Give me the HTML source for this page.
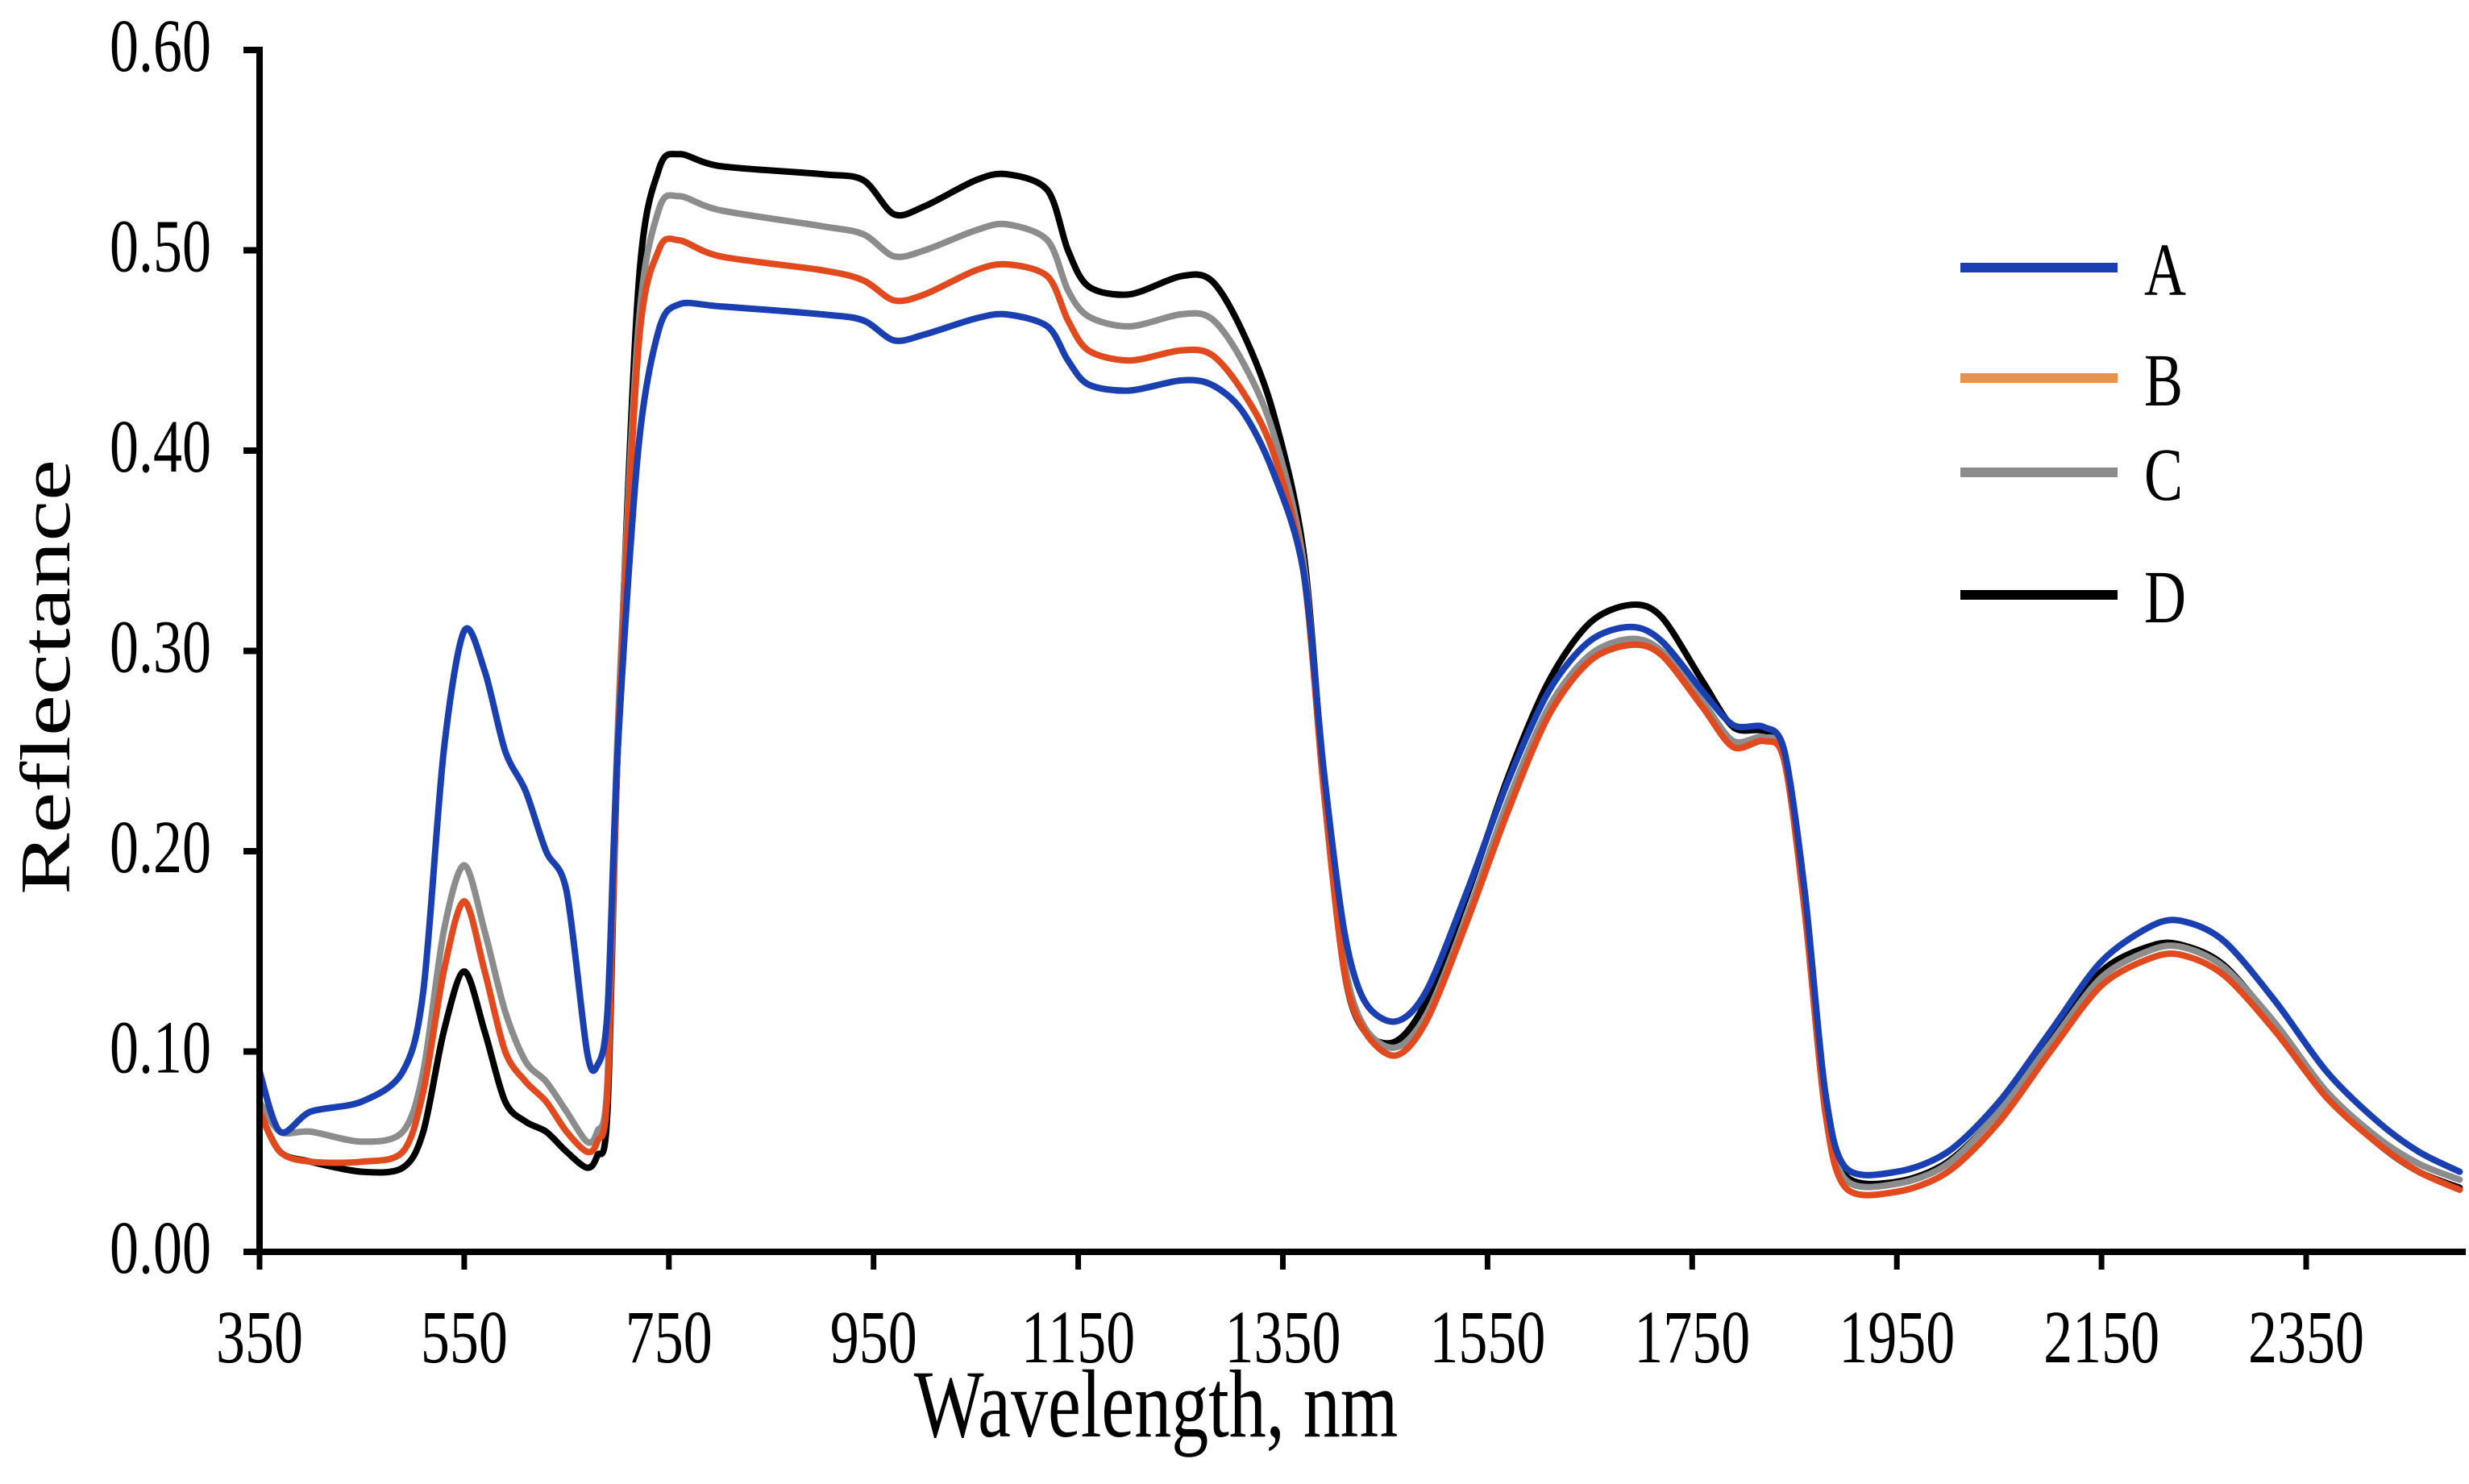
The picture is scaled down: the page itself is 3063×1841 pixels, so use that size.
<!DOCTYPE html>
<html><head><meta charset="utf-8"><style>html,body{margin:0;padding:0;background:#fff}svg{display:block}text{font-family:"Liberation Serif",serif;fill:#000}</style></head>
<body>
<svg id="chart" width="3063" height="1841" viewBox="0 0 3063 1841" xmlns="http://www.w3.org/2000/svg">
<g id="series"></g>
<g id="axes"></g>
<g id="legend"></g>
</svg>
<script>
const wavelengths=[350,370,400,450,490,510,530,550,570,590,610,630,650,670,680,690,700,720,740,760,800,900,940,970,1000,1050,1080,1120,1140,1160,1200,1250,1280,1310,1340,1370,1390,1410,1430,1460,1490,1530,1570,1610,1650,1690,1720,1760,1790,1820,1840,1860,1880,1900,1950,2000,2050,2100,2150,2200,2230,2270,2320,2370,2420,2460,2500];
const seriesA=[0.09,0.06,0.07,0.075,0.09,0.13,0.25,0.31,0.29,0.25,0.23,0.20,0.18,0.10,0.093,0.12,0.25,0.40,0.46,0.473,0.472,0.468,0.465,0.455,0.458,0.466,0.468,0.462,0.445,0.433,0.43,0.435,0.433,0.42,0.39,0.34,0.24,0.16,0.125,0.115,0.13,0.18,0.235,0.28,0.305,0.312,0.305,0.28,0.263,0.262,0.25,0.18,0.08,0.042,0.04,0.05,0.075,0.11,0.145,0.163,0.165,0.155,0.125,0.09,0.065,0.05,0.04];
const seriesB=[0.07,0.05,0.045,0.045,0.05,0.08,0.14,0.175,0.14,0.10,0.085,0.075,0.06,0.05,0.055,0.08,0.25,0.45,0.50,0.505,0.497,0.49,0.485,0.475,0.478,0.49,0.493,0.487,0.465,0.45,0.445,0.45,0.448,0.43,0.40,0.34,0.23,0.14,0.11,0.098,0.115,0.165,0.22,0.268,0.295,0.303,0.298,0.272,0.252,0.255,0.245,0.17,0.07,0.032,0.03,0.04,0.065,0.10,0.133,0.147,0.148,0.138,0.11,0.077,0.054,0.04,0.031];
const seriesC=[0.075,0.06,0.06,0.055,0.06,0.09,0.16,0.193,0.16,0.12,0.095,0.085,0.07,0.055,0.06,0.085,0.26,0.46,0.52,0.527,0.52,0.512,0.508,0.497,0.50,0.51,0.513,0.505,0.48,0.467,0.462,0.468,0.466,0.445,0.41,0.345,0.235,0.145,0.112,0.102,0.118,0.168,0.225,0.272,0.298,0.306,0.30,0.275,0.255,0.257,0.247,0.172,0.073,0.036,0.034,0.044,0.07,0.104,0.137,0.151,0.152,0.142,0.114,0.08,0.057,0.044,0.036];
const seriesD=[0.07,0.05,0.045,0.04,0.042,0.06,0.11,0.14,0.11,0.075,0.065,0.06,0.05,0.042,0.048,0.07,0.25,0.48,0.54,0.548,0.542,0.538,0.535,0.518,0.522,0.535,0.538,0.53,0.50,0.482,0.478,0.487,0.485,0.46,0.42,0.35,0.235,0.14,0.11,0.105,0.125,0.178,0.237,0.285,0.314,0.323,0.317,0.285,0.262,0.26,0.25,0.175,0.075,0.038,0.035,0.045,0.07,0.105,0.14,0.153,0.153,0.143,0.113,0.078,0.054,0.04,0.032];
const seriesNames=["A","B","C","D"];
const seriesColors=["#1a3fb0","#e04a1e","#8c8c8c","#000000"];
const legendColors=["#1a3fb0","#e8914a","#8c8c8c","#000000"];
const xTicks=[350,550,750,950,1150,1350,1550,1750,1950,2150,2350];
const yTicks=[0,0.1,0.2,0.3,0.4,0.5,0.6];
const yTickLabels=["0.00","0.10","0.20","0.30","0.40","0.50","0.60"];

const NS="http://www.w3.org/2000/svg";
const X0=322,Y0=1553,XMAX=3051;
function xs(w){return X0+(w-350)*1.2695;}
function ys(v){return Y0-v*2485;}
function mk(tag,attrs,parent){const e=document.createElementNS(NS,tag);for(const k in attrs)e.setAttribute(k,attrs[k]);parent.appendChild(e);return e;}
function smooth(pts){
  let d='M'+pts[0][0].toFixed(1)+','+pts[0][1].toFixed(1);
  const t=0.15;
  for(let i=0;i<pts.length-1;i++){
    const p0=pts[Math.max(0,i-1)],p1=pts[i],p2=pts[i+1],p3=pts[Math.min(pts.length-1,i+2)];
    const c1x=p1[0]+(p2[0]-p0[0])*t,c1y=p1[1]+(p2[1]-p0[1])*t;
    const c2x=p2[0]-(p3[0]-p1[0])*t,c2y=p2[1]-(p3[1]-p1[1])*t;
    d+=` C${c1x.toFixed(1)},${c1y.toFixed(1)} ${c2x.toFixed(1)},${c2y.toFixed(1)} ${p2[0].toFixed(1)},${p2[1].toFixed(1)}`;
  }
  return d;
}

const sg=document.getElementById('series');
const all=[seriesA,seriesB,seriesC,seriesD];
for(let s=3;s>=0;s--){
  const pts=all[s].map((v,i)=>[xs(wavelengths[i]),ys(v)]);
  const p=mk('path',{d:smooth(pts),fill:'none',stroke:seriesColors[s],'stroke-width':8,'stroke-linejoin':'round','stroke-linecap':'round'},sg);
  
  
}

const ag=document.getElementById('axes');
let e=mk('line',{x1:X0,y1:58,x2:X0,y2:Y0+4,stroke:'#000','stroke-width':8},ag);


e=mk('line',{x1:X0-4,y1:Y0,x2:XMAX+8,y2:Y0,stroke:'#000','stroke-width':8},ag);


yTicks.forEach((v,i)=>{
  const y=ys(v);
  let t=mk('line',{x1:X0-20,y1:y,x2:X0,y2:y,stroke:'#000','stroke-width':8},ag);
  
  
  let l=mk('text',{transform:`translate(262,${y+26}) scale(1,1.3)`,'text-anchor':'end','font-size':72},ag);
  l.textContent=yTickLabels[i];
  
  
});
xTicks.forEach(w=>{
  const x=xs(w);
  let t=mk('line',{x1:x,y1:Y0,x2:x,y2:Y0+22,stroke:'#000','stroke-width':7},ag);
  
  
  let l=mk('text',{transform:`translate(${x},1690) scale(1,1.3)`,'text-anchor':'middle','font-size':72},ag);
  l.textContent=String(w);
  
  
});
e=mk('text',{transform:'translate(1434,1782) scale(1,1.3)','text-anchor':'middle','font-size':92},ag);
e.textContent='Wavelength, nm';


e=mk('text',{transform:'translate(86,840) rotate(-90) scale(1.3,1)','text-anchor':'middle','font-size':88},ag);
e.textContent='Reflectance';



const lg=document.getElementById('legend');
const legY=[332,469,586,738];
seriesNames.forEach((n,i)=>{
  let l=mk('line',{x1:2432,y1:legY[i],x2:2627,y2:legY[i],stroke:legendColors[i],'stroke-width':12},lg);
  
  
  let t=mk('text',{transform:`translate(2660,${legY[i]+34}) scale(1,1.3)`,'font-size':72},lg);
  t.textContent=n;
  
  
});
</script>
</body></html>
